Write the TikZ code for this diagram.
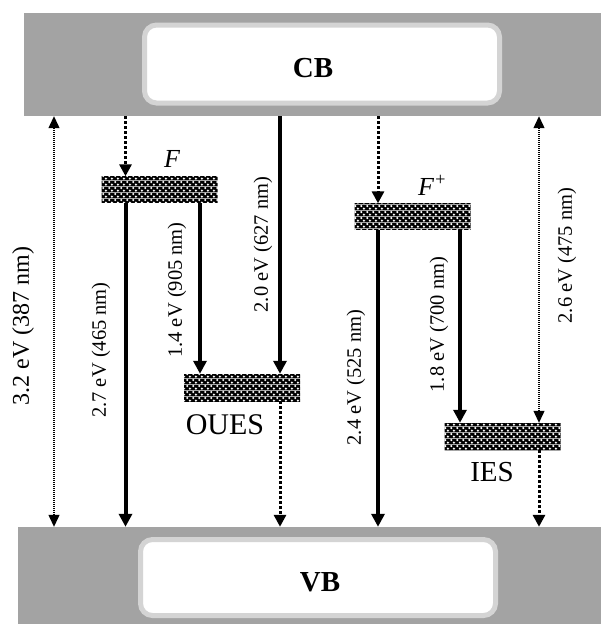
\documentclass[tikz,border=0pt]{standalone}
\usepackage{fontspec}
\setmainfont{Liberation Serif}
\usetikzlibrary{arrows.meta,patterns.meta}
\definecolor{bandgray}{RGB}{163,163,163}
\definecolor{boxgray}{RGB}{212,212,212}
\tikzdeclarepattern{
  name=chk,
  type=colored,
  bounding box={(0pt,0pt) and (6pt,6pt)},
  tile size={(6pt,6pt)},
  code={
    \pgfsetfillcolor{black}
    \pgfpathrectangle{\pgfpointorigin}{\pgfqpoint{6pt}{6pt}}
    \pgfusepath{fill}
    \pgfsetfillcolor{white}
    \pgfpathcircle{\pgfqpoint{1.5pt}{4.5pt}}{1.35pt}
    \pgfpathcircle{\pgfqpoint{4.5pt}{1.5pt}}{1.35pt}
    \pgfusepath{fill}
  }
}
\tikzset{
  band/.style={fill=bandgray, draw=none, inner sep=0pt},
  bandbox/.style={draw=boxgray, line width=5pt, fill=white, rounded corners=12pt,
    inner sep=0pt},
  bandname/.style={font=\bfseries\fontsize{29}{31}\selectfont, inner sep=0pt},
  level/.style={pattern=chk,
    minimum width=116pt, minimum height=26pt, inner sep=0pt},
  sarr/.style={line width=4pt, -{Triangle[length=13pt,width=13pt]}},
  darr/.style={line width=3pt, dash pattern=on 3pt off 2pt, -{Triangle[length=12pt,width=12pt]}},
  tarr/.style={line width=1.2pt, dash pattern=on 1pt off 1pt,
    {Triangle[length=12pt,width=11pt]}-{Triangle[length=12pt,width=11pt]}},
  lab/.style={rotate=90, font=\fontsize{20.5}{22}\selectfont, inner sep=0pt},
  lvlname/.style={font=\fontsize{30}{32}\selectfont, inner sep=0pt},
}
\begin{document}
\begin{tikzpicture}[x=1pt,y=-1pt]
\useasboundingbox (0,0) rectangle (601,624);
% bands
\node[band, minimum width=577pt, minimum height=103pt] (cbband) at (312.5,64.5) {};
\node[band, minimum width=583pt, minimum height=97pt] (vbband) at (309.5,575.5) {};
\node[bandbox, minimum width=355pt, minimum height=78pt] (cb) at (322,64) {};
\node[bandbox, minimum width=355pt, minimum height=76pt] (vb) at (318,577.5) {};
\node[bandname] (cbt) at (313,68) {CB};
\node[bandname] (vbt) at (320,582) {VB};
% levels
\node[level] (F) at (159.5,189.5) {};
\node[level, minimum height=27pt] (oues) at (242,387.5) {};
\node[level] (Fp) at (412.5,216.5) {};
\node[level, minimum height=27pt] (ies) at (502.5,436.5) {};
% x positions
\coordinate (xa) at (54,0);
\coordinate (xb) at (125.5,0);
\coordinate (xc) at (200,0);
\coordinate (xd) at (280,0);
\coordinate (xe) at (378,0);
\coordinate (xf) at (460,0);
\coordinate (xg) at (539,0);
% arrows
\draw[tarr] (xa |- cbband.south) -- (xa |- vbband.north);
\draw[darr] (xb |- cbband.south) -- (xb |- F.north);
\draw[sarr] (xb |- F.south) -- (xb |- vbband.north);
\draw[sarr] (xc |- F.south) -- (xc |- oues.north);
\draw[sarr] (xd |- cbband.south) -- (xd |- oues.north);
\draw[darr] (xd |- oues.south) -- (xd |- vbband.north);
\draw[darr] (xe |- cbband.south) -- (xe |- Fp.north);
\draw[sarr] (xe |- Fp.south) -- (xe |- vbband.north);
\draw[sarr] (xf |- Fp.south) -- (xf |- ies.north);
\draw[tarr] (xg |- cbband.south) -- (xg |- ies.north);
\draw[darr] (xg |- ies.south) -- (xg |- vbband.north);
% labels
\node[lab, font=\fontsize{24}{26}\selectfont] (l32) at (23,326) {3.2 eV (387 nm)};
\node[lab] (l27) at (101,350) {2.7 eV (465 nm)};
\node[lab] (l14) at (177,290) {1.4 eV (905 nm)};
\node[lab] (l20) at (263,244.5) {2.0 eV (627 nm)};
\node[lab] (l24) at (356,377.5) {2.4 eV (525 nm)};
\node[lab] (l18) at (439,324.5) {1.8 eV (700 nm)};
\node[lab] (l26) at (567,255.5) {2.6 eV (475 nm)};
\node[lvlname, font=\itshape\fontsize{26}{28}\selectfont] (Fl) at (172,159) {F};
\node[lvlname, font=\itshape\fontsize{26}{28}\selectfont, anchor=base west] (Fpl) at (418,195) {F\textsuperscript{+}};
\node[lvlname] (ouesl) at (225,425) {OUES};
\node[lvlname, font=\fontsize{29}{31}\selectfont] (iesl) at (492,472) {IES};
\end{tikzpicture}
\end{document}
